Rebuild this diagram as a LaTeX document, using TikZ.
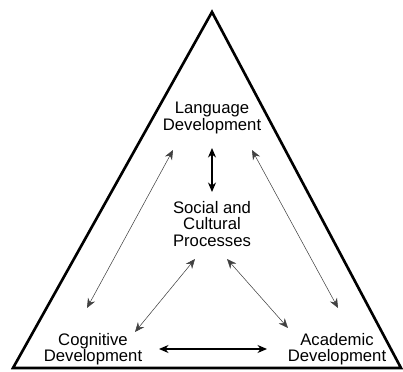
\documentclass[tikz,border=0pt]{standalone}
\usepackage{fontspec}
\setmainfont{Liberation Sans}
\usetikzlibrary{arrows.meta, calc}
\tikzset{
	area/.style     ={line width=1.5pt, line join=miter},
	topic/.style    ={align=center, inner sep=0pt, font=\fontsize{9.5}{9.2}\selectfont},
	% links between topics
	mainlink/.style ={{Stealth[length=1.9mm, width=1.6mm]}-{Stealth[length=1.9mm, width=1.6mm]}, line width=0.6pt},
	sidelink/.style ={{Stealth[length=1.9mm, width=1.6mm]}-{Stealth[length=1.9mm, width=1.6mm]}, line width=0.3pt, black!75},
}

\begin{document}
\begin{tikzpicture}[x=0.02cm, y=-0.02cm]
			\useasboundingbox (0,0) rectangle (403,372);
			\draw[area] (212,12) -- (401,368) -- (13,368) -- cycle;
			\node[topic] (lang) at (212,118) {Language\\Development};
			\node[topic] (soc) at (212,224) {Social and\\Cultural\\Processes};
			\node[topic] (cog) at (93,349) {Cognitive\\Development};
			\node[topic] (acad) at (337,349) {Academic\\Development};
			\draw[mainlink] ($(lang)+(0,30)$) -- ($(soc)+(0,-32)$);
			\draw[sidelink] ($(lang)+(-39,32)$) -- ($(cog)+(-6,-41)$);
			\draw[sidelink] ($(lang)+(40,32)$) -- ($(acad)+(1,-41)$);
			\draw[sidelink] ($(soc)+(-17,35)$) -- ($(cog)+(42,-17)$);
			\draw[sidelink] ($(soc)+(15,35)$) -- ($(acad)+(-49,-21)$);
			\draw[mainlink] ($(cog)+(66,0)$) -- ($(acad)+(-70,0)$);
		\end{tikzpicture}
\end{document}
